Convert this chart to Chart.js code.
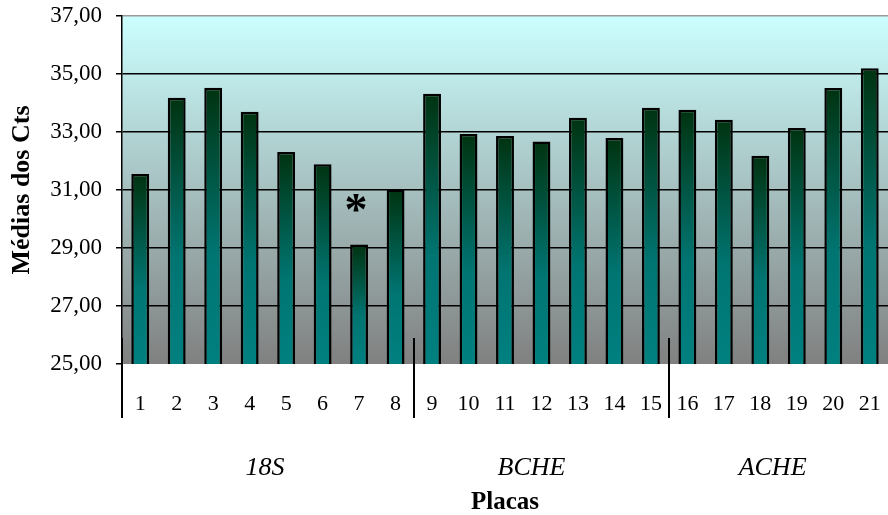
<!DOCTYPE html>
<html>
<head>
<meta charset="utf-8">
<script src="https://cdn.jsdelivr.net/npm/chart.js@4"></script>
<style>
  html, body { margin: 0; padding: 0; background: #fff; }
  #wrap { width: 888px; height: 515px; }
</style>
</head>
<body>
<div id="wrap"><canvas id="ctChart"></canvas></div>
<script>
// plates 1..21 and their mean Ct values
const placas = ['1', '2', '3', '4', '5', '6', '7', '8', '9', '10', '11', '12', '13', '14', '15', '16', '17', '18', '19', '20', '21'];
const medias = [31.55, 34.18, 34.53, 33.70, 32.31, 31.89, 29.12, 31.02, 34.32, 32.93, 32.86, 32.67, 33.49, 32.79, 33.84, 33.77, 33.42, 32.18, 33.14, 34.52, 35.20];

// gene groups: name, first and last plate index
const grupos = ['18S', 'BCHE', 'ACHE'];
const grupoInicio = [0, 8, 15];
const grupoFim = [7, 14, 20];

// marked plate (asterisk) and where it sits
const marcaIndice = 6;
const marcaValor = 30.55;

const yMin = 25, yMax = 37, yPasso = 2;

const serif = '"Liberation Serif", "Times New Roman", serif';
// small nudges for the group captions (px), like the original layout
const grupoAjuste = [-3, -10, -6];

// background gradient + separators + group labels + asterisk
const extras = {
    id: 'extras',
    beforeDraw(chart) {
        const { ctx, chartArea: a } = chart;
        const g = ctx.createLinearGradient(0, a.top, 0, a.bottom);
        g.addColorStop(0, '#ccffff');
        g.addColorStop(1, '#808080');
        ctx.save();
        ctx.fillStyle = g;
        ctx.fillRect(a.left, a.top, a.right - a.left, a.bottom - a.top);
        ctx.restore();
    },
    afterDraw(chart) {
        const { ctx, chartArea: a } = chart;
        const x = chart.scales.x, y = chart.scales.y;
        const half = (x.getPixelForValue(1) - x.getPixelForValue(0)) / 2;

        ctx.save();
        // separators between groups
        ctx.strokeStyle = '#000';
        ctx.lineWidth = 2;
        grupoInicio.forEach(i => {
            const px = Math.round(x.getPixelForValue(i) - half);
            ctx.beginPath();
            ctx.moveTo(px, a.bottom - 26);
            ctx.lineTo(px, a.bottom + 54);
            ctx.stroke();
        });

        // group names
        ctx.fillStyle = '#000';
        ctx.font = 'italic 26px ' + serif;
        ctx.textAlign = 'center';
        ctx.textBaseline = 'middle';
        grupos.forEach((nome, k) => {
            const px = (x.getPixelForValue(grupoInicio[k]) + x.getPixelForValue(grupoFim[k])) / 2;
            ctx.fillText(nome, px + grupoAjuste[k], a.bottom + 104);
        });

        // asterisk above plate 7
        ctx.font = 'bold 46px ' + serif;
        ctx.textBaseline = 'alphabetic';
        const m = ctx.measureText('*');
        const cy = y.getPixelForValue(marcaValor);
        const off = (m.actualBoundingBoxAscent - m.actualBoundingBoxDescent) / 2;
        ctx.fillText('*', x.getPixelForValue(marcaIndice) - 3, cy + off);
        ctx.restore();
    }
};

function barGradient(context) {
    const chart = context.chart;
    const a = chart.chartArea;
    if (!a || !chart.scales.y) return '#008080';
    const y = chart.scales.y;
    const top = y.getPixelForValue(medias[context.dataIndex]);
    const bottom = y.getPixelForValue(yMin);
    const g = chart.ctx.createLinearGradient(0, top, 0, bottom);
    g.addColorStop(0, '#003310');
    g.addColorStop(0.6, '#007572');
    g.addColorStop(1, '#008080');
    return g;
}

const ctx = document.getElementById('ctChart').getContext('2d');
new Chart(ctx, {
    type: 'bar',
    data: {
        labels: placas,
        datasets: [{
            data: medias,
            backgroundColor: barGradient,
            borderColor: '#000',
            borderWidth: 2.5,
            borderSkipped: false,
            categoryPercentage: 1,
            barPercentage: 0.49
        }]
    },
    options: {
        responsive: true,
        maintainAspectRatio: false,
        animation: false,
        layout: { padding: { top: 16, left: 0, right: 0, bottom: 0 } },
        plugins: {
            legend: { display: false },
            tooltip: { enabled: false }
        },
        scales: {
            x: {
                grid: { display: false, drawTicks: false },
                border: { display: false },
                ticks: {
                    color: '#000',
                    font: { family: serif, size: 22 },
                    padding: 27,
                    maxRotation: 0,
                    autoSkip: false
                },
                title: {
                    display: true,
                    text: 'Placas',
                    color: '#000',
                    font: { family: serif, size: 25, weight: 'bold', lineHeight: 1 },
                    padding: 0
                },
                afterFit: s => {
                    s.height = 151;
                    s.paddingLeft = 0;
                    s.paddingRight = 0;
                }
            },
            y: {
                min: yMin,
                max: yMax,
                grid: {
                    color: c => c.tick.value === yMax ? '#999999' : (c.tick.value === yMin ? 'rgba(0,0,0,0)' : '#000'),
                    lineWidth: 1.5,
                    tickColor: '#000',
                    tickLength: 6
                },
                border: { display: true, color: '#000', width: 1.5 },
                ticks: {
                    stepSize: yPasso,
                    color: '#000',
                    font: { family: serif, size: 23 },
                    padding: 14,
                    callback: v => v.toFixed(2).replace('.', ',')
                },
                title: {
                    display: true,
                    text: 'Médias dos Cts',
                    color: '#000',
                    font: { family: serif, size: 26, weight: 'bold', lineHeight: 1 },
                    padding: { top: 9, bottom: 0 }
                },
                afterFit: s => {
                    s.width = 122;
                    s.paddingTop = 0;
                    s.paddingBottom = 0;
                }
            }
        }
    },
    plugins: [extras]
});
</script>
</body>
</html>
